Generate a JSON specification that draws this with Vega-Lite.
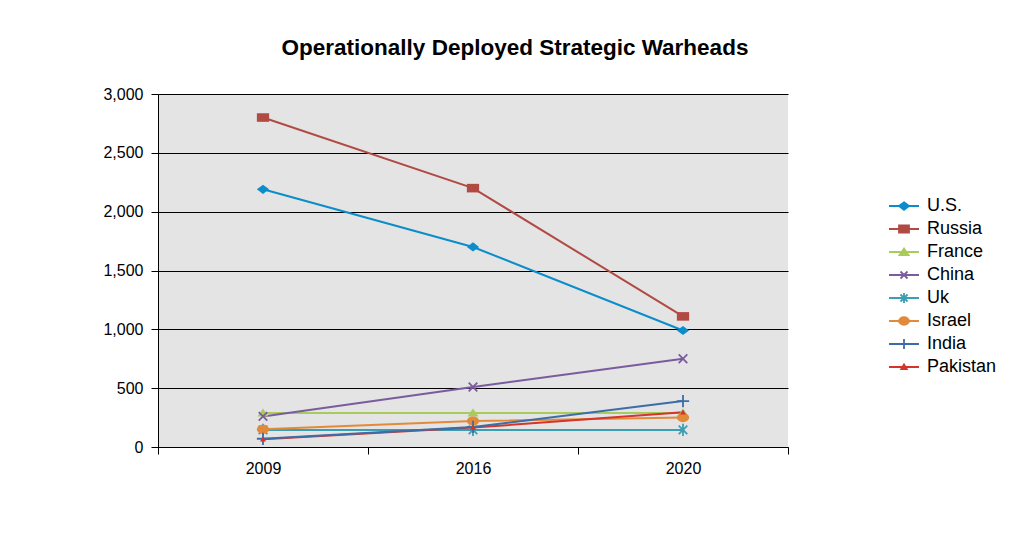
{
  "$schema": "https://vega.github.io/schema/vega-lite/v6.json",
  "width": 630,
  "height": 353,
  "autosize": {"type": "none"},
  "padding": {"left": 158, "top": 94, "right": 230, "bottom": 90},
  "background": "white",
  "title": {
    "text": "Operationally Deployed Strategic Warheads",
    "font": "Liberation Sans",
    "fontSize": 22.5,
    "fontWeight": "bold",
    "color": "black",
    "anchor": "middle",
    "baseline": "alphabetic",
    "dx": 42,
    "offset": 9
  },
  "config": {
    "view": {"fill": "#E3E4E3", "stroke": null}
  },
  "data": {
    "values": [
      {"country": "U.S.", "year": "2009", "warheads": 2190},
      {"country": "U.S.", "year": "2016", "warheads": 1700},
      {"country": "U.S.", "year": "2020", "warheads": 990},
      {"country": "Russia", "year": "2009", "warheads": 2800},
      {"country": "Russia", "year": "2016", "warheads": 2200},
      {"country": "Russia", "year": "2020", "warheads": 1110},
      {"country": "France", "year": "2009", "warheads": 290},
      {"country": "France", "year": "2016", "warheads": 290},
      {"country": "France", "year": "2020", "warheads": 290},
      {"country": "China", "year": "2009", "warheads": 260},
      {"country": "China", "year": "2016", "warheads": 510},
      {"country": "China", "year": "2020", "warheads": 750},
      {"country": "Uk", "year": "2009", "warheads": 145},
      {"country": "Uk", "year": "2016", "warheads": 145},
      {"country": "Uk", "year": "2020", "warheads": 145},
      {"country": "Israel", "year": "2009", "warheads": 150},
      {"country": "Israel", "year": "2016", "warheads": 220},
      {"country": "Israel", "year": "2020", "warheads": 250},
      {"country": "Pakistan", "year": "2009", "warheads": 65},
      {"country": "Pakistan", "year": "2016", "warheads": 165},
      {"country": "Pakistan", "year": "2020", "warheads": 295},
      {"country": "India", "year": "2009", "warheads": 70},
      {"country": "India", "year": "2016", "warheads": 170},
      {"country": "India", "year": "2020", "warheads": 390}
    ]
  },
  "encoding": {
    "x": {
      "field": "year",
      "type": "ordinal",
      "sort": ["2009", "2016", "2020"],
      "bandPosition": 0.5,
      "scale": {"type": "band", "paddingInner": 0, "paddingOuter": 0},
      "axis": {
        "title": null,
        "labelAngle": 0,
        "tickBand": "extent",
        "ticks": true,
        "tickSize": 7,
        "tickColor": "black",
        "domainColor": "black",
        "domainWidth": 1,
        "grid": false,
        "labelFont": "Liberation Sans",
        "labelFontSize": 16,
        "labelColor": "black",
        "labelPadding": 6
      }
    },
    "y": {
      "field": "warheads",
      "type": "quantitative",
      "scale": {"domain": [0, 3000], "nice": false, "zero": true},
      "axis": {
        "title": null,
        "values": [0, 500, 1000, 1500, 2000, 2500, 3000],
        "format": ",.0f",
        "grid": true,
        "gridColor": "black",
        "gridOpacity": 1,
        "gridWidth": 1,
        "domainColor": "black",
        "tickColor": "black",
        "tickSize": 7,
        "labelFont": "Liberation Sans",
        "labelFontSize": 16,
        "labelColor": "black",
        "labelPadding": 8
      }
    },
    "color": {
      "field": "country",
      "type": "nominal",
      "scale": {
        "domain": ["U.S.", "Russia", "France", "China", "Uk", "Israel", "India", "Pakistan"],
        "range": ["#0B8DCB", "#B24A44", "#A9CB5C", "#7A5C9E", "#3C9EB2", "#E28A3B", "#3D6DA8", "#D4342A"]
      },
      "legend": {
        "title": null,
        "orient": "none",
        "legendX": 737,
        "legendY": 103,
        "padding": 0,
        "labelFont": "Liberation Sans",
        "labelFontSize": 18,
        "labelColor": "black",
        "labelOffset": 14,
        "rowPadding": 5,
        "symbolSize": 100,
        "symbolStrokeWidth": 1.8,
        "encode": {
          "symbols": {
            "update": {
              "shape": {"signal": "'M-3,0H3' + ['M0,-0.75L1,0L0,0.75L-1,0Z M0,-0.45L0.6,0L0,0.45L-0.6,0Z M0,-0.15L0.2,0L0,0.15L-0.2,0Z', 'M-1,-0.7H1V0.7H-1Z M-0.6,-0.3H0.6V0.3H-0.6Z M-0.2,0H0.2', 'M0,-0.7L0.9,0.6H-0.9Z M0,-0.25L0.45,0.35H-0.45Z', 'M-0.7,-0.7L0.7,0.7M-0.7,0.7L0.7,-0.7', 'M-0.7,-0.7L0.7,0.7M-0.7,0.7L0.7,-0.7M0,-1V1', 'M-1,0A1,0.75,0,1,0,1,0A1,0.75,0,1,0,-1,0Z M-0.55,0A0.55,0.35,0,1,0,0.55,0A0.55,0.35,0,1,0,-0.55,0Z M-0.15,0H0.15', 'M-1,0H1M0,-1V1', 'M0,-0.5L0.55,0.4H-0.55Z M0,-0.1L0.2,0.2H-0.2Z'][indexof(['U.S.','Russia','France','China','Uk','Israel','India','Pakistan'], datum.value)]"},
              "stroke": {"signal": "scale('color', datum.value)"},
              "strokeWidth": {"value": 1.8},
              "opacity": {"value": 1}
            }
          }
        }
      }
    }
  },
  "layer": [
    {"mark": {"type": "line", "strokeWidth": 2}},
    {
      "transform": [{"filter": {"field": "country", "equal": "U.S."}}],
      "mark": {"type": "point", "filled": true, "opacity": 1, "size": 150, "shape": "M0,-0.75L1,0L0,0.75L-1,0Z"}
    },
    {
      "transform": [{"filter": {"field": "country", "equal": "Russia"}}],
      "mark": {"type": "point", "filled": true, "opacity": 1, "size": 150, "shape": "M-1,-0.7H1V0.7H-1Z"}
    },
    {
      "transform": [{"filter": {"field": "country", "equal": "France"}}],
      "mark": {"type": "point", "filled": true, "opacity": 1, "size": 150, "shape": "M0,-0.7L0.9,0.6H-0.9Z"}
    },
    {
      "transform": [{"filter": {"field": "country", "equal": "China"}}],
      "mark": {"type": "point", "filled": false, "opacity": 1, "size": 150, "strokeWidth": 1.8, "shape": "M-0.7,-0.7L0.7,0.7M-0.7,0.7L0.7,-0.7"}
    },
    {
      "transform": [{"filter": {"field": "country", "equal": "Uk"}}],
      "mark": {"type": "point", "filled": false, "opacity": 1, "size": 150, "strokeWidth": 1.8, "shape": "M-0.7,-0.7L0.7,0.7M-0.7,0.7L0.7,-0.7M0,-1V1"}
    },
    {
      "transform": [{"filter": {"field": "country", "equal": "Israel"}}],
      "mark": {"type": "point", "filled": true, "opacity": 1, "size": 150, "shape": "M-1,0A1,0.75,0,1,0,1,0A1,0.75,0,1,0,-1,0Z"}
    },
    {
      "transform": [{"filter": {"field": "country", "equal": "India"}}],
      "mark": {"type": "point", "filled": false, "opacity": 1, "size": 150, "strokeWidth": 1.8, "shape": "M-1,0H1M0,-1V1"}
    },
    {
      "transform": [{"filter": {"field": "country", "equal": "Pakistan"}}],
      "mark": {"type": "point", "filled": true, "opacity": 1, "size": 150, "shape": "M0,-0.45L0.5,0.35H-0.5Z"}
    }
  ]
}
